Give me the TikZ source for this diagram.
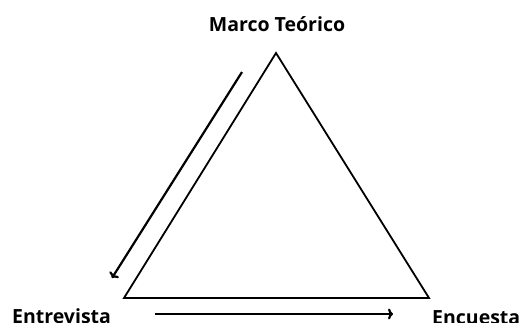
\documentclass[tikz,border=0pt]{standalone}
\usepackage{fontspec}
\setmainfont{Open Sans}
\usetikzlibrary{arrows.meta}
\begin{document}
\begin{tikzpicture}[x=1pt,y=-1pt,every node/.style={font=\bfseries\fontsize{19.5}{22}\selectfont,inner sep=0pt},
    side/.style={line width=1.8pt,line join=miter},
    flow/.style={line width=2.2pt,-{To[length=5pt,width=11pt]}}]
    \useasboundingbox (0,0) rectangle (524,323);
    \coordinate (top) at (276,53);
    \coordinate (left) at (124,298);
    \coordinate (right) at (429,298);
    \draw[side] (top) -- (left) -- (right) -- cycle;
    \node[anchor=base] (marco) at (277,32) {Marco Teórico};
    \node[anchor=base west] (entre) at (12,323) {Entrevista};
    \node[anchor=base west] (encu) at (432,324) {Encuesta};
    \coordinate (a1) at (242,72);
    \coordinate (a2) at (112,278);
    \coordinate (b1) at (155,314);
    \coordinate (b2) at (393,314);
    \draw[flow] (a1) -- (a2);
    \draw[flow] (b1) -- (b2);
\end{tikzpicture}
\end{document}
